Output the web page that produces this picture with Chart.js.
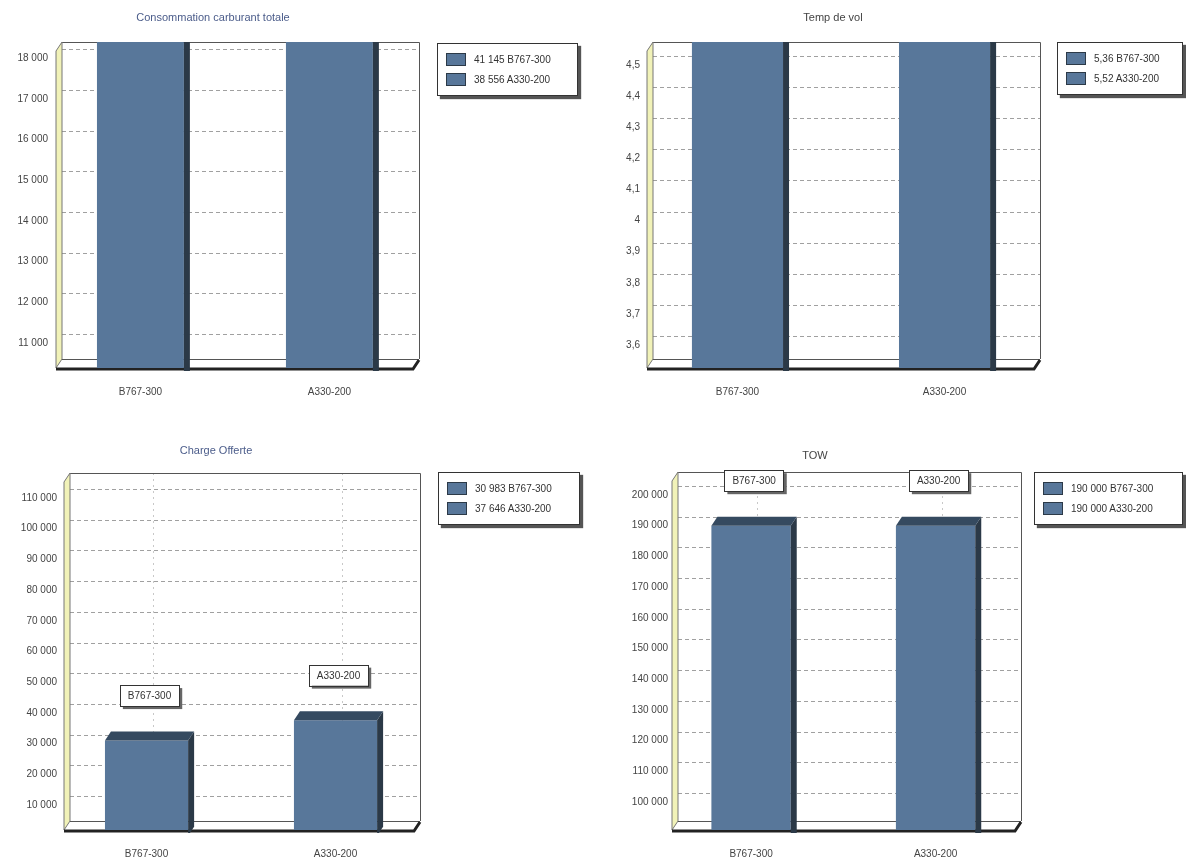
<!DOCTYPE html>
<html>
<head>
<meta charset="utf-8">
<script src="https://cdn.jsdelivr.net/npm/chart.js@4"></script>
<style>
  body { margin: 0; background: #fff; width: 1186px; height: 866px; position: relative; overflow: hidden;
         font-family: "Liberation Sans", Arial, sans-serif; }
  canvas { position: absolute; }
  .title { position: absolute; font-size: 11px; line-height: 14px; transform: translate(-50%, -50%); white-space: nowrap; }
  .legend { position: absolute; background: #fff; border: 1px solid #333; box-shadow: 3px 3px 1px #555;
            font-size: 10px; color: #333; padding: 5px 8px; box-sizing: border-box; height: 53px; }
  .legend div { display: flex; align-items: center; height: 20px; white-space: nowrap; }
  .legend .sw { width: 18px; height: 11px; background: #58779a; border: 1px solid #2c3a48; margin-right: 8px; flex: none; }
</style>
</head>
<body>
<canvas id="c1" width="593" height="433" style="left:0;top:0"></canvas>
<canvas id="c2" width="593" height="433" style="left:593px;top:0"></canvas>
<canvas id="c3" width="593" height="433" style="left:0;top:433px"></canvas>
<canvas id="c4" width="593" height="433" style="left:593px;top:433px"></canvas>
<script>
// données
const categories = ["B767-300", "A330-200"];
const fuelValues = [41145, 38556];
const fuelTicks = [11000, 12000, 13000, 14000, 15000, 16000, 17000, 18000];
const timeValues = [5.36, 5.52];
const timeTicks = [3.6, 3.7, 3.8, 3.9, 4.0, 4.1, 4.2, 4.3, 4.4, 4.5];
const payloadValues = [30983, 37646];
const payloadTicks = [10000, 20000, 30000, 40000, 50000, 60000, 70000, 80000, 90000, 100000, 110000];
const towValues = [190000, 190000];
const towTicks = [100000, 110000, 120000, 130000, 140000, 150000, 160000, 170000, 180000, 190000, 200000];

const fmtInt = v => String(Math.round(v)).replace(/\B(?=(\d{3})+(?!\d))/g, " ");
const fmtDec = v => String(v).replace(".", ",");

const barColor = "#58779a";
const sideColor = "#2b3947";
const topColor = "#354a60";
const depth = { dx: 6, dy: 9 };

Chart.defaults.font.family = "'Liberation Sans', Arial, sans-serif";
Chart.defaults.font.size = 10;
Chart.defaults.color = "#333";

// faux 3D : murs, sol, grille du fond, faces des barres
const pseudo3d = {
  id: "pseudo3d",
  beforeDatasetsDraw(chart, args, opts) {
    const { ctx, chartArea: a, scales: { y } } = chart;
    ctx.save();
    ctx.strokeStyle = "#a0a0a0";
    ctx.lineWidth = 1;
    ctx.setLineDash([4, 3]);
    y.ticks.forEach(t => {
      const py = Math.round(y.getPixelForValue(t.value) - depth.dy) + 0.5;
      if (py <= a.top + 1 || py >= a.bottom - depth.dy) return;
      ctx.beginPath();
      ctx.moveTo(a.left, py);
      ctx.lineTo(a.right, py);
      ctx.stroke();
    });
    if (opts.callouts) {
      // lignes verticales du fond, au droit des catégories
      ctx.strokeStyle = "#c8c8c8";
      ctx.setLineDash([2, 4]);
      chart.getDatasetMeta(0).data.forEach(bar => {
        const px = Math.round(bar.x + depth.dx) + 0.5;
        ctx.beginPath();
        ctx.moveTo(px, a.top);
        ctx.lineTo(px, a.bottom - depth.dy);
        ctx.stroke();
      });
    }
    ctx.setLineDash([]);

    // cadre du fond
    ctx.strokeStyle = "#555";
    ctx.beginPath();
    ctx.moveTo(a.left, a.top + 0.5);
    ctx.lineTo(a.right + 0.5, a.top + 0.5);
    ctx.lineTo(a.right + 0.5, a.bottom - depth.dy);
    ctx.stroke();

    // mur gauche
    ctx.fillStyle = "#f1f2b8";
    ctx.strokeStyle = "#777";
    ctx.beginPath();
    ctx.moveTo(a.left - depth.dx, a.top + depth.dy);
    ctx.lineTo(a.left, a.top);
    ctx.lineTo(a.left, a.bottom - depth.dy);
    ctx.lineTo(a.left - depth.dx, a.bottom);
    ctx.closePath();
    ctx.fill();
    ctx.stroke();

    // sol
    ctx.strokeStyle = "#555";
    ctx.beginPath();
    ctx.moveTo(a.left, a.bottom - depth.dy + 0.5);
    ctx.lineTo(a.right, a.bottom - depth.dy + 0.5);
    ctx.stroke();
    ctx.strokeStyle = "#222";
    ctx.lineWidth = 3;
    ctx.beginPath();
    ctx.moveTo(a.left - depth.dx, a.bottom + 1);
    ctx.lineTo(a.right - depth.dx, a.bottom + 1);
    ctx.lineTo(a.right, a.bottom - depth.dy + 1);
    ctx.stroke();
    ctx.restore();
  },
  afterDatasetsDraw(chart, args, opts) {
    const { ctx, chartArea: a } = chart;
    const meta = chart.getDatasetMeta(0);
    ctx.save();
    ctx.beginPath();
    ctx.rect(a.left - depth.dx, a.top, a.right - a.left + 2 * depth.dx, a.bottom - a.top + 3);
    ctx.clip();
    meta.data.forEach(bar => {
      const { x, y, base, width } = bar.getProps(["x", "y", "base", "width"], true);
      const l = x - width / 2, r = x + width / 2;
      const top = Math.max(y, a.top);
      ctx.fillStyle = sideColor;
      ctx.beginPath();
      ctx.moveTo(r, top);
      ctx.lineTo(r + depth.dx, top - depth.dy);
      ctx.lineTo(r + depth.dx, base - depth.dy);
      ctx.lineTo(r, base);
      ctx.closePath();
      ctx.fill();
      if (y > a.top + depth.dy) {
        ctx.fillStyle = topColor;
        ctx.beginPath();
        ctx.moveTo(l, y);
        ctx.lineTo(l + depth.dx, y - depth.dy);
        ctx.lineTo(r + depth.dx, y - depth.dy);
        ctx.lineTo(r, y);
        ctx.closePath();
        ctx.fill();
      }
    });
    ctx.restore();

    if (!opts.callouts) return;
    ctx.save();
    ctx.font = "10px 'Liberation Sans', Arial, sans-serif";
    ctx.textAlign = "center";
    ctx.textBaseline = "middle";
    meta.data.forEach((bar, i) => {
      const { x, y } = bar.getProps(["x", "y"], true);
      const cx = x + depth.dx / 2;
      const cy = y - 45;
      const text = categories[i];
      const w = ctx.measureText(text).width + 16;
      const h = 21;
      ctx.fillStyle = "#666";
      ctx.fillRect(cx - w / 2 + 3, cy - h / 2 + 3, w, h);
      ctx.fillStyle = "#fff";
      ctx.fillRect(cx - w / 2, cy - h / 2, w, h);
      ctx.strokeStyle = "#333";
      ctx.lineWidth = 1;
      ctx.strokeRect(Math.round(cx - w / 2) + 0.5, Math.round(cy - h / 2) + 0.5, Math.round(w), h);
      ctx.fillStyle = "#333";
      ctx.fillText(text, cx, cy + 1);
    });
    ctx.restore();
  }
};

const panels = [
  { id: "c1", title: "Consommation carburant totale", titleColor: "#4b5c8a", titleX: 213, titleY: 17,
    values: fuelValues, ticks: fuelTicks, fmt: fmtInt, yMin: 10385, yMax: 18400,
    xMin: -0.415, xMax: 1.474, barPct: 0.46, padT: 42, padR: 174, padB: 25, yWidth: 62, yPad: 14,
    xHeight: 40, xPad: 18, callouts: false,
    legend: { left: 437, top: 43, width: 141 } },
  { id: "c2", title: "Temp de vol", titleColor: "#444", titleX: 833, titleY: 17,
    values: timeValues, ticks: timeTicks, fmt: fmtDec, yMin: 3.526, yMax: 4.574,
    xMin: -0.408, xMax: 1.461, barPct: 0.44, padT: 42, padR: 146, padB: 25, yWidth: 60, yPad: 13,
    xHeight: 40, xPad: 18, callouts: false,
    legend: { left: 1057, top: 42, width: 126 } },
  { id: "c3", title: "Charge Offerte", titleColor: "#4b5c8a", titleX: 216, titleY: 450,
    values: payloadValues, ticks: payloadTicks, fmt: fmtInt, yMin: 1857, yMax: 118143,
    xMin: -0.405, xMax: 1.447, barPct: 0.44, padT: 40, padR: 173, padB: 3, yWidth: 70, yPad: 13,
    xHeight: 33, xPad: 18, callouts: true,
    legend: { left: 438, top: 472, width: 142 } },
  { id: "c4", title: "TOW", titleColor: "#444", titleX: 815, titleY: 455,
    values: towValues, ticks: towTicks, fmt: fmtInt, yMin: 90879, yMax: 207492,
    xMin: -0.396, xMax: 1.463, barPct: 0.43, padT: 39, padR: 165, padB: 3, yWidth: 85, yPad: 10,
    xHeight: 33, xPad: 18, callouts: true,
    legend: { left: 1034, top: 472, width: 149 } }
];

panels.forEach(p => {
  new Chart(document.getElementById(p.id), {
    type: "bar",
    data: {
      datasets: [{
        data: p.values.map((v, i) => ({ x: i, y: v })),
        backgroundColor: barColor,
        borderWidth: 0,
        barPercentage: p.barPct,
        categoryPercentage: 1,
        clip: 0
      }]
    },
    options: {
      responsive: false,
      animation: false,
      layout: { padding: { left: 0, right: p.padR, top: p.padT, bottom: p.padB } },
      plugins: {
        legend: { display: false },
        tooltip: { enabled: false },
        title: { display: false },
        pseudo3d: { callouts: p.callouts }
      },
      scales: {
        x: {
          type: "linear",
          offset: false,
          min: p.xMin,
          max: p.xMax,
          grid: { display: false, drawTicks: false },
          border: { display: false },
          afterBuildTicks: s => { s.ticks = categories.map((c, i) => ({ value: i })); },
          afterFit: s => { s.height = p.xHeight; },
          ticks: { padding: p.xPad, color: "#444", maxRotation: 0, autoSkip: false,
                   callback: v => categories[v] ?? "" }
        },
        y: {
          min: p.yMin,
          max: p.yMax,
          grid: { display: false, drawTicks: false },
          border: { display: false },
          afterBuildTicks: s => { s.ticks = p.ticks.map(v => ({ value: v })); },
          afterFit: s => { s.width = p.yWidth; },
          ticks: { padding: p.yPad, color: "#444", callback: v => p.fmt(v) }
        }
      }
    },
    plugins: [pseudo3d]
  });

  // titre
  const title = document.createElement("div");
  title.className = "title";
  title.style.left = p.titleX + "px";
  title.style.top = p.titleY + "px";
  title.style.color = p.titleColor;
  title.textContent = p.title;
  document.body.appendChild(title);

  // légende
  const box = document.createElement("div");
  box.className = "legend";
  box.style.left = p.legend.left + "px";
  box.style.top = p.legend.top + "px";
  box.style.width = p.legend.width + "px";
  p.values.forEach((v, i) => {
    const row = document.createElement("div");
    row.innerHTML = `<span class="sw"></span><span>${p.fmt(v)} ${categories[i]}</span>`;
    box.appendChild(row);
  });
  document.body.appendChild(box);
});
</script>
</body>
</html>
